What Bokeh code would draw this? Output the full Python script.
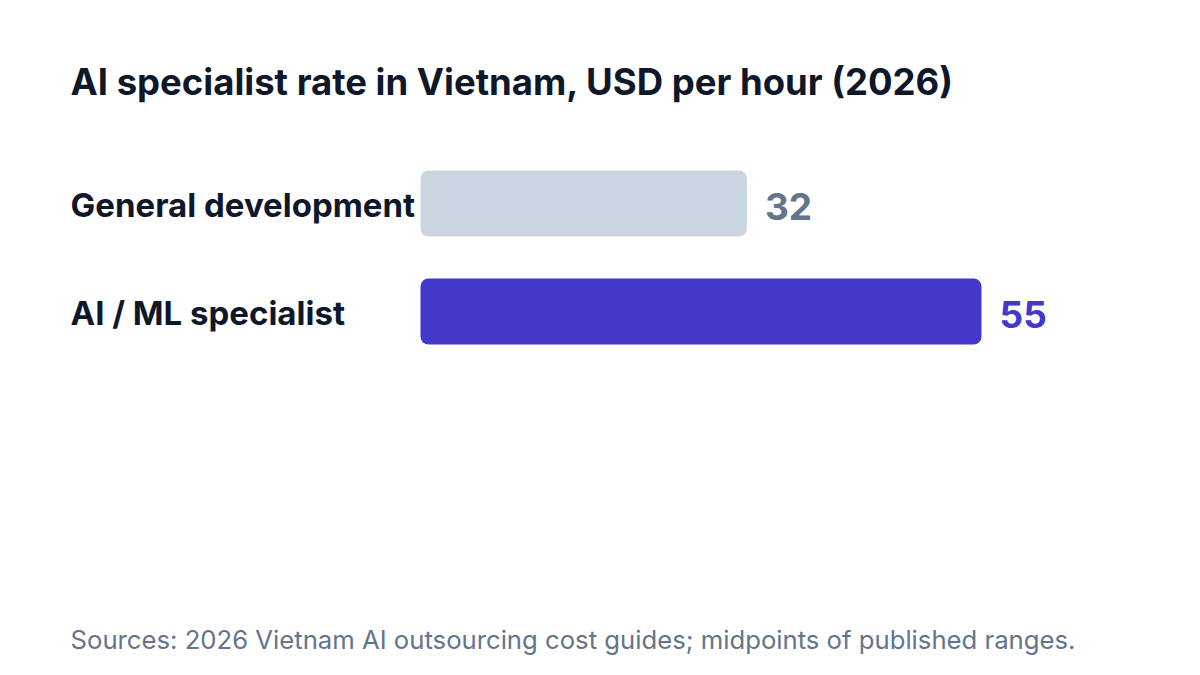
from bokeh.plotting import figure
from bokeh.models import Range1d, Label, ColumnDataSource
from bokeh.core.properties import value
from bokeh.embed import file_html
from bokeh.resources import INLINE

categories = ["General development", "AI / ML specialist"]
rates = [32, 55]
bar_colors = ["#cbd5e1", "#4338ca"]
value_colors = ["#64748b", "#4338ca"]
title_text = "AI specialist rate in Vietnam, USD per hour (2026)"
source_text = "Sources: 2026 Vietnam AI outsourcing cost guides; midpoints of published ranges."

W, H = 1184, 659
PX_PER_UNIT = 10.2
ZERO_PX = 420
LEFT = 70
FONT = "Inter"

# layout: bar centres in top-down pixel-like y space
first_center = 203
pitch = 108
ys = [first_center + i * pitch for i in range(len(categories))]

src = ColumnDataSource(dict(cat=categories, rate=rates, y=ys,
                            color=bar_colors, vcolor=value_colors,
                            label=[str(r) for r in rates],
                            ty=[y + 3 for y in ys]))

p = figure(width=W, height=H, output_backend="svg", toolbar_location=None,
           x_range=Range1d(-ZERO_PX / PX_PER_UNIT, (W - ZERO_PX) / PX_PER_UNIT),
           y_range=Range1d(H, 0), min_border=0)
p.axis.visible = False
p.grid.visible = False
p.outline_line_color = None
p.background_fill_color = "white"
p.border_fill_color = "white"

p.hbar(y="y", left=0, right="rate", height=66, source=src,
       fill_color="color", line_color=None, border_radius=8)

p.text(x="rate", y="ty", text="label", source=src, x_offset=18,
       text_color="vcolor", text_font=value(FONT), text_font_style="bold",
       text_font_size="37px", text_baseline="alphabetic", text_align="left")

for cat, y in zip(categories, ys):
    p.add_layout(Label(x=LEFT, x_units="screen", y=y + 1, y_units="data", text=cat,
                       text_font=FONT, text_font_style="bold", text_font_size="33px",
                       text_color="#0f172a", text_baseline="alphabetic"))

p.add_layout(Label(x=LEFT, x_units="screen", y=81, y_units="data", text=title_text,
                   text_font=FONT, text_font_style="bold", text_font_size="36.5px",
                   text_color="#0f172a", text_baseline="alphabetic"))

p.add_layout(Label(x=LEFT, x_units="screen", y=639, y_units="data", text=source_text,
                   text_font=FONT, text_font_size="25.7px",
                   text_color="#64748b", text_baseline="alphabetic"))

open("out.html", "w").write(file_html(p, INLINE))
